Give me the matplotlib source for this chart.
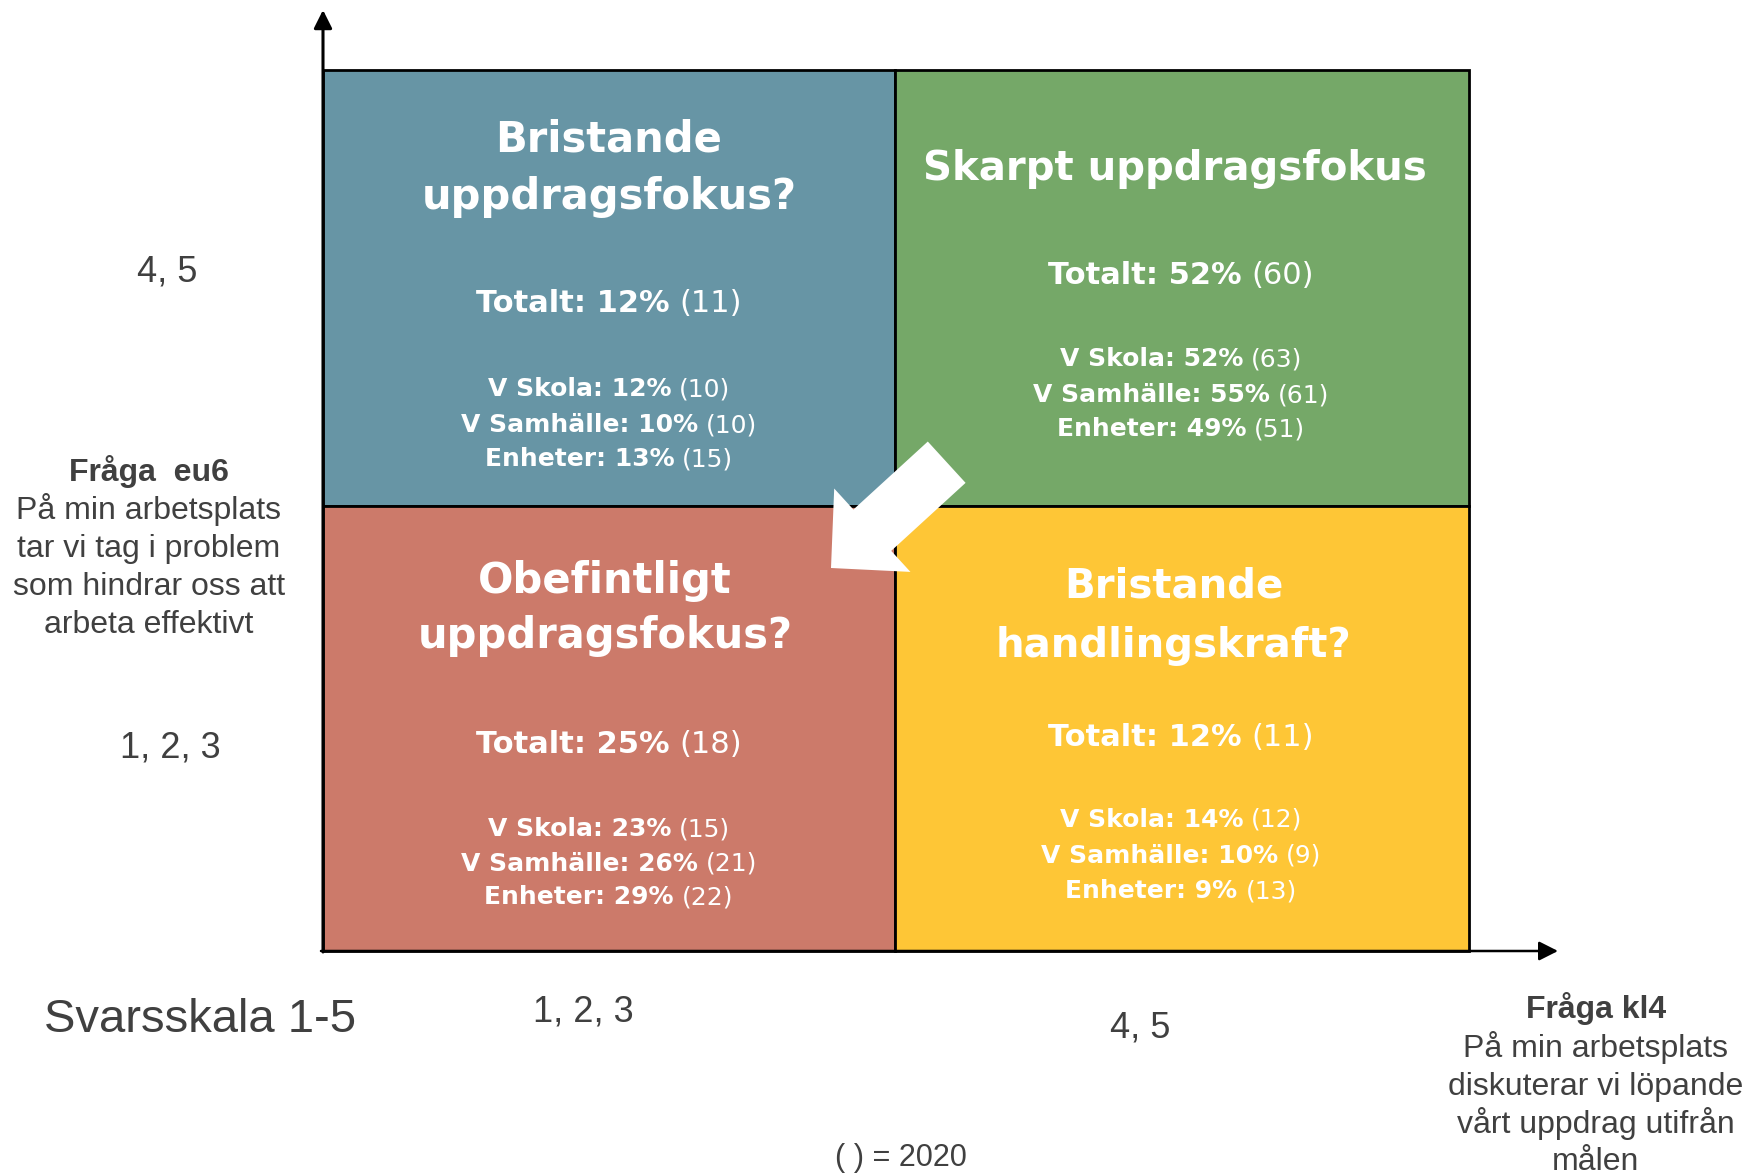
import matplotlib
matplotlib.use("Agg")
import matplotlib.pyplot as plt
from matplotlib.patches import Rectangle, FancyArrow, FancyArrowPatch

# ---------------- data ----------------
x_levels = ["1, 2, 3", "4, 5"]          # Fråga kl4 answer groups
y_levels = ["1, 2, 3", "4, 5"]          # Fråga eu6 answer groups
quad_xi = [0, 1, 0, 1]
quad_yi = [1, 1, 0, 0]
quad_titles = [["Bristande", "uppdragsfokus?"],
               ["Skarpt uppdragsfokus"],
               ["Obefintligt", "uppdragsfokus?"],
               ["Bristande", "handlingskraft?"]]
quad_colors = ["#6795A5", "#75A868", "#CC7A6A", "#FEC636"]
total_pct = [12, 52, 25, 12]
total_2020 = [11, 60, 18, 11]
groups = ["V Skola", "V Samhälle", "Enheter"]
skola_pct = [12, 52, 23, 14]
skola_2020 = [10, 63, 15, 12]
samhalle_pct = [10, 55, 26, 10]
samhalle_2020 = [10, 61, 21, 9]
enheter_pct = [13, 49, 29, 9]
enheter_2020 = [15, 51, 22, 13]

y_question = ["Fråga  eu6", "På min arbetsplats", "tar vi tag i problem",
              "som hindrar oss att", "arbeta effektivt"]
x_question = ["Fråga kl4", "På min arbetsplats", "diskuterar vi löpande",
              "vårt uppdrag utifrån", "målen"]
scale_label = "Svarsskala 1-5"
note_label = "( ) = 2020"

# ---------------- layout ----------------
W, H = 1749, 1174
x_edges = [323, 895, 1469]
y_edges = [951, 506, 70]
title_cx = [609, 1175, 605, 1174]
body_cx = [609, 1181, 609, 1181]
title_size = [30, 29, 30, 29]
title_base = [[151, 209], [180], [593, 648], [598, 657]]
total_base = [312, 284, 753, 746]
sub_base = [[396, 432, 466], [366, 402, 436], [836, 871, 904], [827, 863, 898]]
GRAY = "#404040"

fig = plt.figure(figsize=(W / 100, H / 100), dpi=100)
ax = fig.add_axes([0, 0, 1, 1])
ax.set_xlim(0, W)
ax.set_ylim(H, 0)
ax.axis("off")
renderer = fig.canvas.get_renderer()


def mixed(x, y, parts, size, color="white", family="DejaVu Sans"):
    objs = [ax.text(0, y, s, fontsize=size, fontweight=w, family=family,
                    color=color, ha="left", va="baseline", zorder=6)
            for s, w in parts]
    ws = [o.get_window_extent(renderer).width for o in objs]
    gap = 0.32 * size * 100 / 72
    total = sum(ws) + gap * (len(ws) - 1)
    cur = x - total / 2
    for o, w in zip(objs, ws):
        o.set_x(cur)
        cur += w + gap


sub_pct = [skola_pct, samhalle_pct, enheter_pct]
sub_2020 = [skola_2020, samhalle_2020, enheter_2020]

for q in range(4):
    xi, yi = quad_xi[q], quad_yi[q]
    x0, x1 = x_edges[xi], x_edges[xi + 1]
    y0, y1 = y_edges[yi + 1], y_edges[yi]
    ax.add_patch(Rectangle((x0, y0), x1 - x0, y1 - y0, facecolor=quad_colors[q],
                           edgecolor="black", lw=2.0, zorder=1))
    for line, yb in zip(quad_titles[q], title_base[q]):
        ax.text(title_cx[q], yb, line, fontsize=title_size[q], fontweight="bold",
                family="DejaVu Sans", color="white", ha="center", va="baseline", zorder=6)
    cx = body_cx[q]
    mixed(cx, total_base[q], [(f"Totalt: {total_pct[q]}%", "bold"),
                              (f"({total_2020[q]})", "normal")], 22)
    for g in range(3):
        mixed(cx, sub_base[q][g], [(f"{groups[g]}: {sub_pct[g][q]}%", "bold"),
                                   (f"({sub_2020[g][q]})", "normal")], 18)

# axes with arrows
ax.add_patch(FancyArrowPatch((323, 952), (323, 10), arrowstyle="-|>,head_length=11,head_width=5.5",
                             mutation_scale=1, lw=2.2, color="black", shrinkA=0, shrinkB=0, zorder=3))
ax.add_patch(FancyArrowPatch((321, 951), (1558, 951), arrowstyle="-|>,head_length=11.5,head_width=5.8",
                             mutation_scale=1, lw=1.8, color="black", shrinkA=0, shrinkB=0, zorder=3))

# white block arrow
ax.add_patch(FancyArrow(946.7, 462.2, -115.7, 105.8, width=56, head_width=113, head_length=56,
                        length_includes_head=True, facecolor="white", edgecolor="none", zorder=5))

# axis level labels
ax.text(167, 281, y_levels[1], fontsize=26, family="Liberation Sans", color=GRAY, ha="center", va="baseline")
ax.text(170, 757, y_levels[0], fontsize=26, family="Liberation Sans", color=GRAY, ha="center", va="baseline")
ax.text(583, 1022, x_levels[0], fontsize=26, family="Liberation Sans", color=GRAY, ha="center", va="baseline")
ax.text(1140, 1037, x_levels[1], fontsize=26, family="Liberation Sans", color=GRAY, ha="center", va="baseline")

# question texts
for i, (line, yb) in enumerate(zip(y_question, [481, 519, 557, 595, 633])):
    ax.text(149, yb, line, fontsize=23, family="Liberation Sans", color=GRAY,
            fontweight="bold" if i == 0 else "normal", ha="center", va="baseline")
for i, (line, yb) in enumerate(zip(x_question, [1018, 1057, 1095, 1133, 1170])):
    ax.text(1596, yb, line, fontsize=23, family="Liberation Sans", color=GRAY,
            fontweight="bold" if i == 0 else "normal", ha="center", va="baseline")

ax.text(200, 1032, scale_label, fontsize=34, family="Liberation Sans", color=GRAY, ha="center", va="baseline")
ax.text(901, 1166, note_label, fontsize=22, family="Liberation Sans", color=GRAY, ha="center", va="baseline")

fig.savefig("out.png", dpi=100, facecolor="white")
